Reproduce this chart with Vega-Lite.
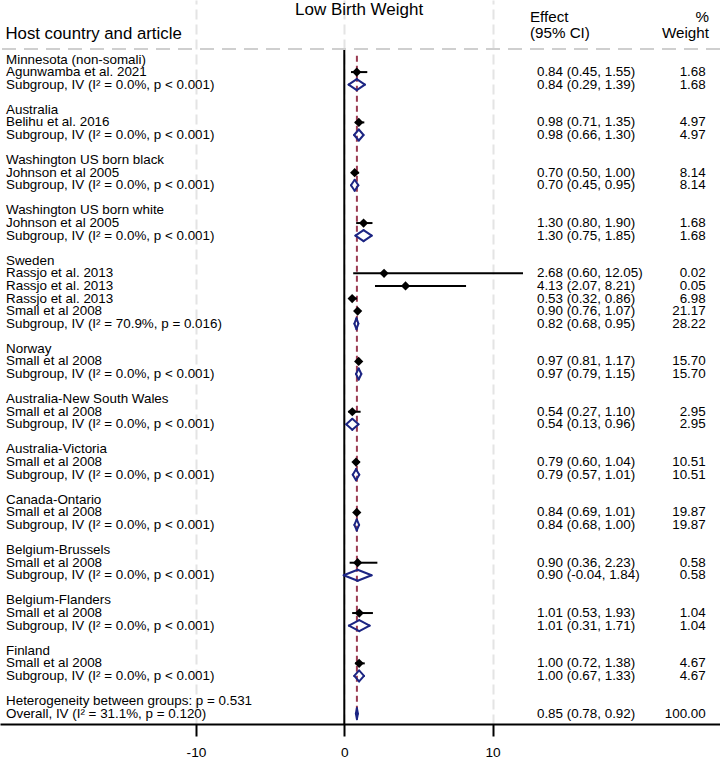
{
  "$schema": "https://vega.github.io/schema/vega-lite/v6.json",
  "width": 720,
  "height": 724,
  "autosize": {"type": "none"},
  "padding": {"left": 0, "top": 0, "right": 0, "bottom": 34},
  "background": "white",
  "config": {
    "view": {"stroke": null},
    "font": "Liberation Sans",
    "text": {"font": "Liberation Sans", "color": "black"}
  },
  "datasets": {
    "rows": [
      {"row": 0, "kind": "group", "label": "Minnesota (non-somali)"},
      {"row": 1, "kind": "study", "label": "Agunwamba et al. 2021", "est": 0.84, "lci": 0.45, "uci": 1.55, "ci": "0.84 (0.45, 1.55)", "w": "1.68"},
      {"row": 2, "kind": "subgroup", "label": "Subgroup, IV (I² = 0.0%, p < 0.001)", "est": 0.84, "lci": 0.29, "uci": 1.39, "ci": "0.84 (0.29, 1.39)", "w": "1.68"},
      {"row": 4, "kind": "group", "label": "Australia"},
      {"row": 5, "kind": "study", "label": "Belihu  et al. 2016", "est": 0.98, "lci": 0.71, "uci": 1.35, "ci": "0.98 (0.71, 1.35)", "w": "4.97"},
      {"row": 6, "kind": "subgroup", "label": "Subgroup, IV (I² = 0.0%, p < 0.001)", "est": 0.98, "lci": 0.66, "uci": 1.30, "ci": "0.98 (0.66, 1.30)", "w": "4.97"},
      {"row": 8, "kind": "group", "label": "Washington US born black"},
      {"row": 9, "kind": "study", "label": "Johnson et al 2005", "est": 0.70, "lci": 0.50, "uci": 1.00, "ci": "0.70 (0.50, 1.00)", "w": "8.14"},
      {"row": 10, "kind": "subgroup", "label": "Subgroup, IV (I² = 0.0%, p < 0.001)", "est": 0.70, "lci": 0.45, "uci": 0.95, "ci": "0.70 (0.45, 0.95)", "w": "8.14"},
      {"row": 12, "kind": "group", "label": "Washington US born white"},
      {"row": 13, "kind": "study", "label": "Johnson et al 2005", "est": 1.30, "lci": 0.80, "uci": 1.90, "ci": "1.30 (0.80, 1.90)", "w": "1.68"},
      {"row": 14, "kind": "subgroup", "label": "Subgroup, IV (I² = 0.0%, p < 0.001)", "est": 1.30, "lci": 0.75, "uci": 1.85, "ci": "1.30 (0.75, 1.85)", "w": "1.68"},
      {"row": 16, "kind": "group", "label": "Sweden"},
      {"row": 17, "kind": "study", "label": "Rassjo et al. 2013", "est": 2.68, "lci": 0.60, "uci": 12.05, "ci": "2.68 (0.60, 12.05)", "w": "0.02"},
      {"row": 18, "kind": "study", "label": "Rassjo et al. 2013", "est": 4.13, "lci": 2.07, "uci": 8.21, "ci": "4.13 (2.07, 8.21)", "w": "0.05"},
      {"row": 19, "kind": "study", "label": "Rassjo et al. 2013", "est": 0.53, "lci": 0.32, "uci": 0.86, "ci": "0.53 (0.32, 0.86)", "w": "6.98"},
      {"row": 20, "kind": "study", "label": "Small et al 2008", "est": 0.90, "lci": 0.76, "uci": 1.07, "ci": "0.90 (0.76, 1.07)", "w": "21.17"},
      {"row": 21, "kind": "subgroup", "label": "Subgroup, IV (I² = 70.9%, p = 0.016)", "est": 0.82, "lci": 0.68, "uci": 0.95, "ci": "0.82 (0.68, 0.95)", "w": "28.22"},
      {"row": 23, "kind": "group", "label": "Norway"},
      {"row": 24, "kind": "study", "label": "Small et al 2008", "est": 0.97, "lci": 0.81, "uci": 1.17, "ci": "0.97 (0.81, 1.17)", "w": "15.70"},
      {"row": 25, "kind": "subgroup", "label": "Subgroup, IV (I² = 0.0%, p < 0.001)", "est": 0.97, "lci": 0.79, "uci": 1.15, "ci": "0.97 (0.79, 1.15)", "w": "15.70"},
      {"row": 27, "kind": "group", "label": "Australia-New South Wales"},
      {"row": 28, "kind": "study", "label": "Small et al 2008", "est": 0.54, "lci": 0.27, "uci": 1.10, "ci": "0.54 (0.27, 1.10)", "w": "2.95"},
      {"row": 29, "kind": "subgroup", "label": "Subgroup, IV (I² = 0.0%, p < 0.001)", "est": 0.54, "lci": 0.13, "uci": 0.96, "ci": "0.54 (0.13, 0.96)", "w": "2.95"},
      {"row": 31, "kind": "group", "label": "Australia-Victoria"},
      {"row": 32, "kind": "study", "label": "Small et al 2008", "est": 0.79, "lci": 0.60, "uci": 1.04, "ci": "0.79 (0.60, 1.04)", "w": "10.51"},
      {"row": 33, "kind": "subgroup", "label": "Subgroup, IV (I² = 0.0%, p < 0.001)", "est": 0.79, "lci": 0.57, "uci": 1.01, "ci": "0.79 (0.57, 1.01)", "w": "10.51"},
      {"row": 35, "kind": "group", "label": "Canada-Ontario"},
      {"row": 36, "kind": "study", "label": "Small et al 2008", "est": 0.84, "lci": 0.69, "uci": 1.01, "ci": "0.84 (0.69, 1.01)", "w": "19.87"},
      {"row": 37, "kind": "subgroup", "label": "Subgroup, IV (I² = 0.0%, p < 0.001)", "est": 0.84, "lci": 0.68, "uci": 1.00, "ci": "0.84 (0.68, 1.00)", "w": "19.87"},
      {"row": 39, "kind": "group", "label": "Belgium-Brussels"},
      {"row": 40, "kind": "study", "label": "Small et al 2008", "est": 0.90, "lci": 0.36, "uci": 2.23, "ci": "0.90 (0.36, 2.23)", "w": "0.58"},
      {"row": 41, "kind": "subgroup", "label": "Subgroup, IV (I² = 0.0%, p < 0.001)", "est": 0.90, "lci": -0.04, "uci": 1.84, "ci": "0.90 (-0.04, 1.84)", "w": "0.58"},
      {"row": 43, "kind": "group", "label": "Belgium-Flanders"},
      {"row": 44, "kind": "study", "label": "Small et al 2008", "est": 1.01, "lci": 0.53, "uci": 1.93, "ci": "1.01 (0.53, 1.93)", "w": "1.04"},
      {"row": 45, "kind": "subgroup", "label": "Subgroup, IV (I² = 0.0%, p < 0.001)", "est": 1.01, "lci": 0.31, "uci": 1.71, "ci": "1.01 (0.31, 1.71)", "w": "1.04"},
      {"row": 47, "kind": "group", "label": "Finland"},
      {"row": 48, "kind": "study", "label": "Small et al 2008", "est": 1.00, "lci": 0.72, "uci": 1.38, "ci": "1.00 (0.72, 1.38)", "w": "4.67"},
      {"row": 49, "kind": "subgroup", "label": "Subgroup, IV (I² = 0.0%, p < 0.001)", "est": 1.00, "lci": 0.67, "uci": 1.33, "ci": "1.00 (0.67, 1.33)", "w": "4.67"},
      {"row": 51, "kind": "note", "label": "Heterogeneity between groups: p = 0.531"},
      {"row": 52, "kind": "overall", "label": "Overall, IV (I² = 31.1%, p = 0.120)", "est": 0.85, "lci": 0.78, "uci": 0.92, "ci": "0.85 (0.78, 0.92)", "w": "100.00"}
    ]
  },
  "data": {"name": "rows"},
  "layer": [
    {
      "data": {"values": [{}]},
      "mark": {"type": "rule", "color": "#cfcfcf", "strokeWidth": 2, "strokeDash": [14, 8]},
      "encoding": {
        "y": {"datum": -0.83, "type": "quantitative", "scale": {"domain": [-4.73, 52.82], "reverse": true, "nice": false, "zero": false}, "axis": null}
      }
    },
    {
      "data": {"values": [{}]},
      "mark": {"type": "rule", "color": "black", "strokeWidth": 2},
      "encoding": {
        "x": {"datum": 0, "type": "quantitative", "scale": {"domain": [-23.216, 25.334], "nice": false, "zero": false}},
        "y": {"datum": -0.75, "type": "quantitative", "scale": {"domain": [-4.73, 52.82], "reverse": true, "nice": false, "zero": false}, "axis": null},
        "y2": {"datum": 52.82}
      }
    },
    {
      "transform": [{"filter": "datum.kind === 'overall'"}],
      "mark": {"type": "rule", "color": "#9a3a52", "strokeWidth": 2, "strokeDash": [6, 4]},
      "encoding": {
        "x": {"field": "est", "type": "quantitative", "scale": {"domain": [-23.216, 25.334], "nice": false, "zero": false}},
        "y": {"datum": -0.3, "type": "quantitative", "scale": {"domain": [-4.73, 52.82], "reverse": true, "nice": false, "zero": false}, "axis": null},
        "y2": {"datum": 52}
      }
    },
    {
      "transform": [{"filter": "datum.kind === 'study'"}],
      "mark": {"type": "rule", "color": "black", "strokeWidth": 2},
      "encoding": {
        "x": {
          "field": "lci", "type": "quantitative",
          "scale": {"domain": [-23.216, 25.334], "nice": false, "zero": false},
          "axis": {
            "orient": "bottom", "values": [-10, 0, 10], "title": null,
            "grid": true, "gridColor": "#e4e4e4", "gridWidth": 2, "gridDash": [10, 5],
            "domainColor": "black", "domainWidth": 2,
            "tickColor": "black", "tickWidth": 2, "tickSize": 12,
            "labelFont": "Liberation Sans", "labelFontSize": 13.7, "labelColor": "black", "labelPadding": 9,
            "labelExpr": "replace(datum.label, '\u2212', '-')"
          }
        },
        "x2": {"field": "uci"},
        "y": {"field": "row", "type": "quantitative", "scale": {"domain": [-4.73, 52.82], "reverse": true, "nice": false, "zero": false}, "axis": null}
      }
    },
    {
      "transform": [{"filter": "datum.kind === 'study'"}],
      "mark": {"type": "point", "shape": "diamond", "filled": true, "color": "black", "opacity": 1, "size": 85},
      "encoding": {
        "x": {"field": "est", "type": "quantitative", "scale": {"domain": [-23.216, 25.334], "nice": false, "zero": false}},
        "y": {"field": "row", "type": "quantitative", "scale": {"domain": [-4.73, 52.82], "reverse": true, "nice": false, "zero": false}, "axis": null}
      }
    },
    {
      "transform": [{"filter": "datum.kind === 'subgroup' || datum.kind === 'overall'"}],
      "mark": {"type": "rule", "color": "#1c2583", "strokeWidth": 2, "strokeCap": "round", "y2Offset": -5.5},
      "encoding": {
        "x": {"field": "lci", "type": "quantitative", "scale": {"domain": [-23.216, 25.334], "nice": false, "zero": false}},
        "x2": {"field": "est"},
        "y": {"field": "row", "type": "quantitative", "scale": {"domain": [-4.73, 52.82], "reverse": true, "nice": false, "zero": false}, "axis": null},
        "y2": {"field": "row"}
      }
    },
    {
      "transform": [{"filter": "datum.kind === 'subgroup' || datum.kind === 'overall'"}],
      "mark": {"type": "rule", "color": "#1c2583", "strokeWidth": 2, "strokeCap": "round", "y2Offset": 5.5},
      "encoding": {
        "x": {"field": "lci", "type": "quantitative", "scale": {"domain": [-23.216, 25.334], "nice": false, "zero": false}},
        "x2": {"field": "est"},
        "y": {"field": "row", "type": "quantitative", "scale": {"domain": [-4.73, 52.82], "reverse": true, "nice": false, "zero": false}, "axis": null},
        "y2": {"field": "row"}
      }
    },
    {
      "transform": [{"filter": "datum.kind === 'subgroup' || datum.kind === 'overall'"}],
      "mark": {"type": "rule", "color": "#1c2583", "strokeWidth": 2, "strokeCap": "round", "y2Offset": -5.5},
      "encoding": {
        "x": {"field": "uci", "type": "quantitative", "scale": {"domain": [-23.216, 25.334], "nice": false, "zero": false}},
        "x2": {"field": "est"},
        "y": {"field": "row", "type": "quantitative", "scale": {"domain": [-4.73, 52.82], "reverse": true, "nice": false, "zero": false}, "axis": null},
        "y2": {"field": "row"}
      }
    },
    {
      "transform": [{"filter": "datum.kind === 'subgroup' || datum.kind === 'overall'"}],
      "mark": {"type": "rule", "color": "#1c2583", "strokeWidth": 2, "strokeCap": "round", "y2Offset": 5.5},
      "encoding": {
        "x": {"field": "uci", "type": "quantitative", "scale": {"domain": [-23.216, 25.334], "nice": false, "zero": false}},
        "x2": {"field": "est"},
        "y": {"field": "row", "type": "quantitative", "scale": {"domain": [-4.73, 52.82], "reverse": true, "nice": false, "zero": false}, "axis": null},
        "y2": {"field": "row"}
      }
    },
    {
      "mark": {"type": "text", "align": "left", "baseline": "middle", "fontSize": 13.4},
      "encoding": {
        "x": {"datum": -22.81, "type": "quantitative", "scale": {"domain": [-23.216, 25.334], "nice": false, "zero": false}},
        "y": {"field": "row", "type": "quantitative", "scale": {"domain": [-4.73, 52.82], "reverse": true, "nice": false, "zero": false}, "axis": null},
        "text": {"field": "label"}
      }
    },
    {
      "transform": [{"filter": "isValid(datum.ci)"}],
      "mark": {"type": "text", "align": "left", "baseline": "middle", "fontSize": 13.4},
      "encoding": {
        "x": {"datum": 12.99, "type": "quantitative", "scale": {"domain": [-23.216, 25.334], "nice": false, "zero": false}},
        "y": {"field": "row", "type": "quantitative", "scale": {"domain": [-4.73, 52.82], "reverse": true, "nice": false, "zero": false}, "axis": null},
        "text": {"field": "ci"}
      }
    },
    {
      "transform": [{"filter": "isValid(datum.w)"}],
      "mark": {"type": "text", "align": "right", "baseline": "middle", "fontSize": 13.4},
      "encoding": {
        "x": {"datum": 24.37, "type": "quantitative", "scale": {"domain": [-23.216, 25.334], "nice": false, "zero": false}},
        "y": {"field": "row", "type": "quantitative", "scale": {"domain": [-4.73, 52.82], "reverse": true, "nice": false, "zero": false}, "axis": null},
        "text": {"field": "w"}
      }
    },
    {
      "data": {"values": [{}]},
      "mark": {"type": "text", "text": "Low Birth Weight", "align": "center", "baseline": "middle", "fontSize": 17},
      "encoding": {
        "x": {"datum": 1.0, "type": "quantitative", "scale": {"domain": [-23.216, 25.334], "nice": false, "zero": false}},
        "y": {"datum": -3.95, "type": "quantitative", "scale": {"domain": [-4.73, 52.82], "reverse": true, "nice": false, "zero": false}, "axis": null}
      }
    },
    {
      "data": {"values": [{}]},
      "mark": {"type": "text", "text": "Host country and article", "align": "left", "baseline": "middle", "fontSize": 16.8},
      "encoding": {
        "x": {"datum": -22.85, "type": "quantitative", "scale": {"domain": [-23.216, 25.334], "nice": false, "zero": false}},
        "y": {"datum": -2.05, "type": "quantitative", "scale": {"domain": [-4.73, 52.82], "reverse": true, "nice": false, "zero": false}, "axis": null}
      }
    },
    {
      "data": {"values": [{}]},
      "mark": {"type": "text", "text": "Effect", "align": "left", "baseline": "middle", "fontSize": 15.2},
      "encoding": {
        "x": {"datum": 12.52, "type": "quantitative", "scale": {"domain": [-23.216, 25.334], "nice": false, "zero": false}},
        "y": {"datum": -3.4, "type": "quantitative", "scale": {"domain": [-4.73, 52.82], "reverse": true, "nice": false, "zero": false}, "axis": null}
      }
    },
    {
      "data": {"values": [{}]},
      "mark": {"type": "text", "text": "(95% CI)", "align": "left", "baseline": "middle", "fontSize": 15.2},
      "encoding": {
        "x": {"datum": 12.52, "type": "quantitative", "scale": {"domain": [-23.216, 25.334], "nice": false, "zero": false}},
        "y": {"datum": -2.1, "type": "quantitative", "scale": {"domain": [-4.73, 52.82], "reverse": true, "nice": false, "zero": false}, "axis": null}
      }
    },
    {
      "data": {"values": [{}]},
      "mark": {"type": "text", "text": "%", "align": "right", "baseline": "middle", "fontSize": 15.2},
      "encoding": {
        "x": {"datum": 24.59, "type": "quantitative", "scale": {"domain": [-23.216, 25.334], "nice": false, "zero": false}},
        "y": {"datum": -3.4, "type": "quantitative", "scale": {"domain": [-4.73, 52.82], "reverse": true, "nice": false, "zero": false}, "axis": null}
      }
    },
    {
      "data": {"values": [{}]},
      "mark": {"type": "text", "text": "Weight", "align": "right", "baseline": "middle", "fontSize": 15.2},
      "encoding": {
        "x": {"datum": 24.59, "type": "quantitative", "scale": {"domain": [-23.216, 25.334], "nice": false, "zero": false}},
        "y": {"datum": -2.1, "type": "quantitative", "scale": {"domain": [-4.73, 52.82], "reverse": true, "nice": false, "zero": false}, "axis": null}
      }
    }
  ]
}
